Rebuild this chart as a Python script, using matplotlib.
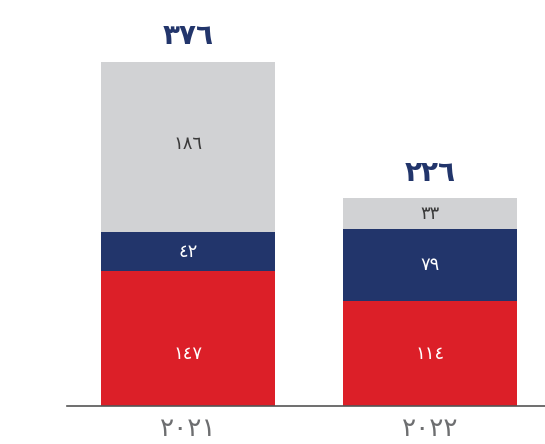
import matplotlib
matplotlib.use("Agg")
import matplotlib.pyplot as plt
import numpy as np

years = ["2021", "2022"]
red_vals = [147, 114]
navy_vals = [42, 79]
grey_vals = [186, 33]
totals = [376, 226]

red = "#DC1F28"
navy = "#22356B"
grey = "#D1D2D4"

AR = str.maketrans("0123456789", "٠١٢٣٤٥٦٧٨٩")


def ar(v):
    return str(v).translate(AR)


plt.rcParams["font.family"] = ["DejaVu Sans"]

fig = plt.figure(figsize=(5.45, 4.44), dpi=100)
ax = fig.add_axes([67 / 545, 38 / 444, 478 / 545, 406 / 444])

x = np.arange(len(years))
w = 0.72
red_v = np.array(red_vals)
navy_v = np.array(navy_vals)
grey_v = np.array(grey_vals)

ax.bar(x, red_v, w, color=red)
ax.bar(x, navy_v, w, bottom=red_v, color=navy)
ax.bar(x, grey_v, w, bottom=red_v + navy_v, color=grey)

# red labels sit at the same height on both bars
red_lab_y = red_v.min() / 2
for i in range(len(years)):
    ax.text(x[i], red_lab_y, ar(red_v[i]), ha="center", va="center",
            color="white", fontsize=13)
    ax.text(x[i], red_v[i] + navy_v[i] / 2, ar(navy_v[i]), ha="center",
            va="center", color="white", fontsize=13)
    ax.annotate(ar(grey_v[i]), (x[i], red_v[i] + navy_v[i] + grey_v[i] / 2),
                xytext=(0, 2 if grey_v[i] > 100 else 0), textcoords="offset points",
                ha="center", va="center", color="#3a3a3a", fontsize=13)
    ax.annotate(ar(totals[i]), (x[i], red_v[i] + navy_v[i] + grey_v[i]),
                xytext=(0, 8), textcoords="offset points", ha="center",
                va="bottom", color=navy, fontsize=20, fontweight="bold")

ax.set_xlim(-0.5, 1.475)
ax.set_ylim(0, 442)
ax.set_xticks(x)
ax.set_xticklabels([ar(y) for y in years], fontsize=19, color="#6d6e70")
ax.tick_params(axis="x", length=0, pad=7)
ax.set_yticks([])
for s in ["top", "right", "left"]:
    ax.spines[s].set_visible(False)
ax.spines["bottom"].set_color("#555555")
ax.spines["bottom"].set_linewidth(1.2)

fig.savefig("out.png", dpi=100)
